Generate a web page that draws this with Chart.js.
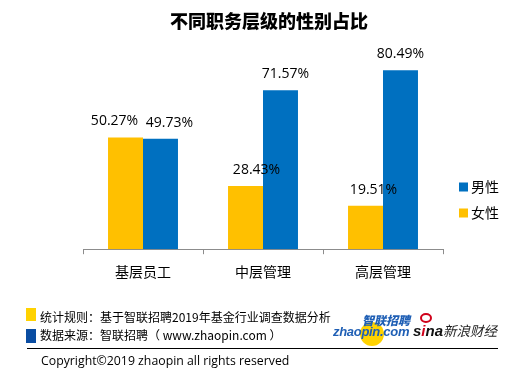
<!DOCTYPE html>
<html><head><meta charset="utf-8">
<script src="https://cdn.jsdelivr.net/npm/chart.js@4.4.0/dist/chart.umd.min.js"></script>
<style>
html,body{margin:0;padding:0;background:#fff;}
#wrap{position:relative;width:527px;height:374px;overflow:hidden;font-family:"Noto Sans CJK SC","Noto Sans",sans-serif;}
#c{position:absolute;left:0;top:0;}
.abs{position:absolute;white-space:nowrap;}
#title{left:0;width:538px;text-align:center;top:7px;font-size:18px;font-weight:900;color:#000;line-height:26px;}
.sq{position:absolute;width:10px;height:13px;}
.ft{font-size:12px;color:#000;line-height:16px;}
</style></head>
<body><div id="wrap">
<canvas id="c" width="527" height="374"></canvas>
<div id="title" class="abs">不同职务层级的性别占比</div>
<div class="sq" style="left:26px;top:308px;background:#FFD200"></div>
<div class="abs ft" style="left:40px;top:309px;">统计规则：基于智联招聘2019年基金行业调查数据分析</div>
<div class="sq" style="left:26px;top:329px;background:#0A4DA2;height:14px"></div>
<div class="abs ft" style="left:40px;top:327px;">数据来源：智联招聘（ www.zhaopin.com ）</div>
<div class="abs" style="left:27px;top:348px;width:471px;height:1px;background:#000"></div>
<div class="abs" style="left:41px;top:352px;font-size:12.3px;line-height:18px;font-family:'Open Sans','DejaVu Sans',sans-serif;color:#000;">Copyright©2019 zhaopin all rights reserved</div>
<div class="abs" style="left:360px;top:322px;width:24px;height:24px;border-radius:50%;background:#FFD200"></div>
<div class="abs" style="left:362px;top:313px;font-size:12px;font-weight:900;font-style:italic;color:#1F5FB5;line-height:14px;">智联招聘</div>
<div class="abs" style="left:333px;top:325px;font-size:13px;font-weight:900;font-style:italic;color:#1F5FB5;line-height:14px;font-family:'Liberation Sans',sans-serif;letter-spacing:-0.3px;">zhaopin.com</div>
<div class="abs" style="left:413px;top:323px;font-size:15px;font-weight:900;font-style:italic;color:#111;line-height:16px;font-family:'Liberation Sans',sans-serif;">s<span style="color:#D0021B">i</span>na</div>
<div class="abs" style="left:420px;top:313px;width:8px;height:6px;border-radius:50%;border:2px solid #D0021B;"></div>
<div class="abs" style="left:443px;top:322px;font-size:13.5px;font-style:italic;color:#222;line-height:16px;">新浪财经</div>
</div>
<script>
const categories = ['基层员工', '中层管理', '高层管理'];
const femaleValues = [50.27, 28.43, 19.51];
const maleValues = [49.73, 71.57, 80.49];
const seriesNames = ['女性', '男性'];

const labelShift = [[-11, 11, 8], [9, 5, 0]];

const labelPlugin = {
  id: 'labels',
  afterDatasetsDraw(chart) {
    const ctx = chart.ctx;
    ctx.save();
    ctx.font = '14px "Open Sans","Noto Sans",sans-serif';
    ctx.fillStyle = '#000';
    ctx.textAlign = 'center';
    ctx.textBaseline = 'middle';
    chart.data.datasets.forEach((ds, di) => {
      chart.getDatasetMeta(di).data.forEach((bar, i) => {
        ctx.fillText(ds.data[i].toFixed(2) + '%', bar.x + labelShift[di][i], bar.y - 16);
      });
    });
    ctx.font = '14px "Noto Sans CJK SC",sans-serif';
    ctx.textAlign = 'left';
    const order = [1, 0];
    order.forEach((di, k) => {
      const ds = chart.data.datasets[di];
      const y = 187 + k * 26;
      ctx.fillStyle = ds.backgroundColor;
      ctx.fillRect(459, y - 4.5, 9, 9);
      ctx.fillStyle = '#000';
      ctx.fillText(ds.label, 471, y);
    });
    ctx.restore();
  }
};

new Chart(document.getElementById('c'), {
  type: 'bar',
  data: {
    labels: categories,
    datasets: [
      { label: seriesNames[0], data: femaleValues, backgroundColor: '#FFC000' },
      { label: seriesNames[1], data: maleValues, backgroundColor: '#0070C0' }
    ]
  },
  options: {
    responsive: false,
    animation: false,
    devicePixelRatio: 1,
    layout: { padding: { left: 83, right: 84, top: 27, bottom: 85 } },
    plugins: { legend: { display: false }, title: { display: false }, tooltip: { enabled: false } },
    datasets: { bar: { categoryPercentage: 0.583, barPercentage: 1.0 } },
    scales: {
      y: { display: false, min: 0, max: 100 },
      x: {
        offset: true,
        grid: { display: true, drawOnChartArea: false, drawTicks: true, tickLength: 5, color: '#8C8C8C', offset: true },
        border: { display: true, color: '#8C8C8C', width: 1 },
        ticks: { color: '#000', padding: 9, font: { size: 14, family: '"Noto Sans CJK SC",sans-serif' } }
      }
    }
  },
  plugins: [labelPlugin]
});
</script>
</body></html>
